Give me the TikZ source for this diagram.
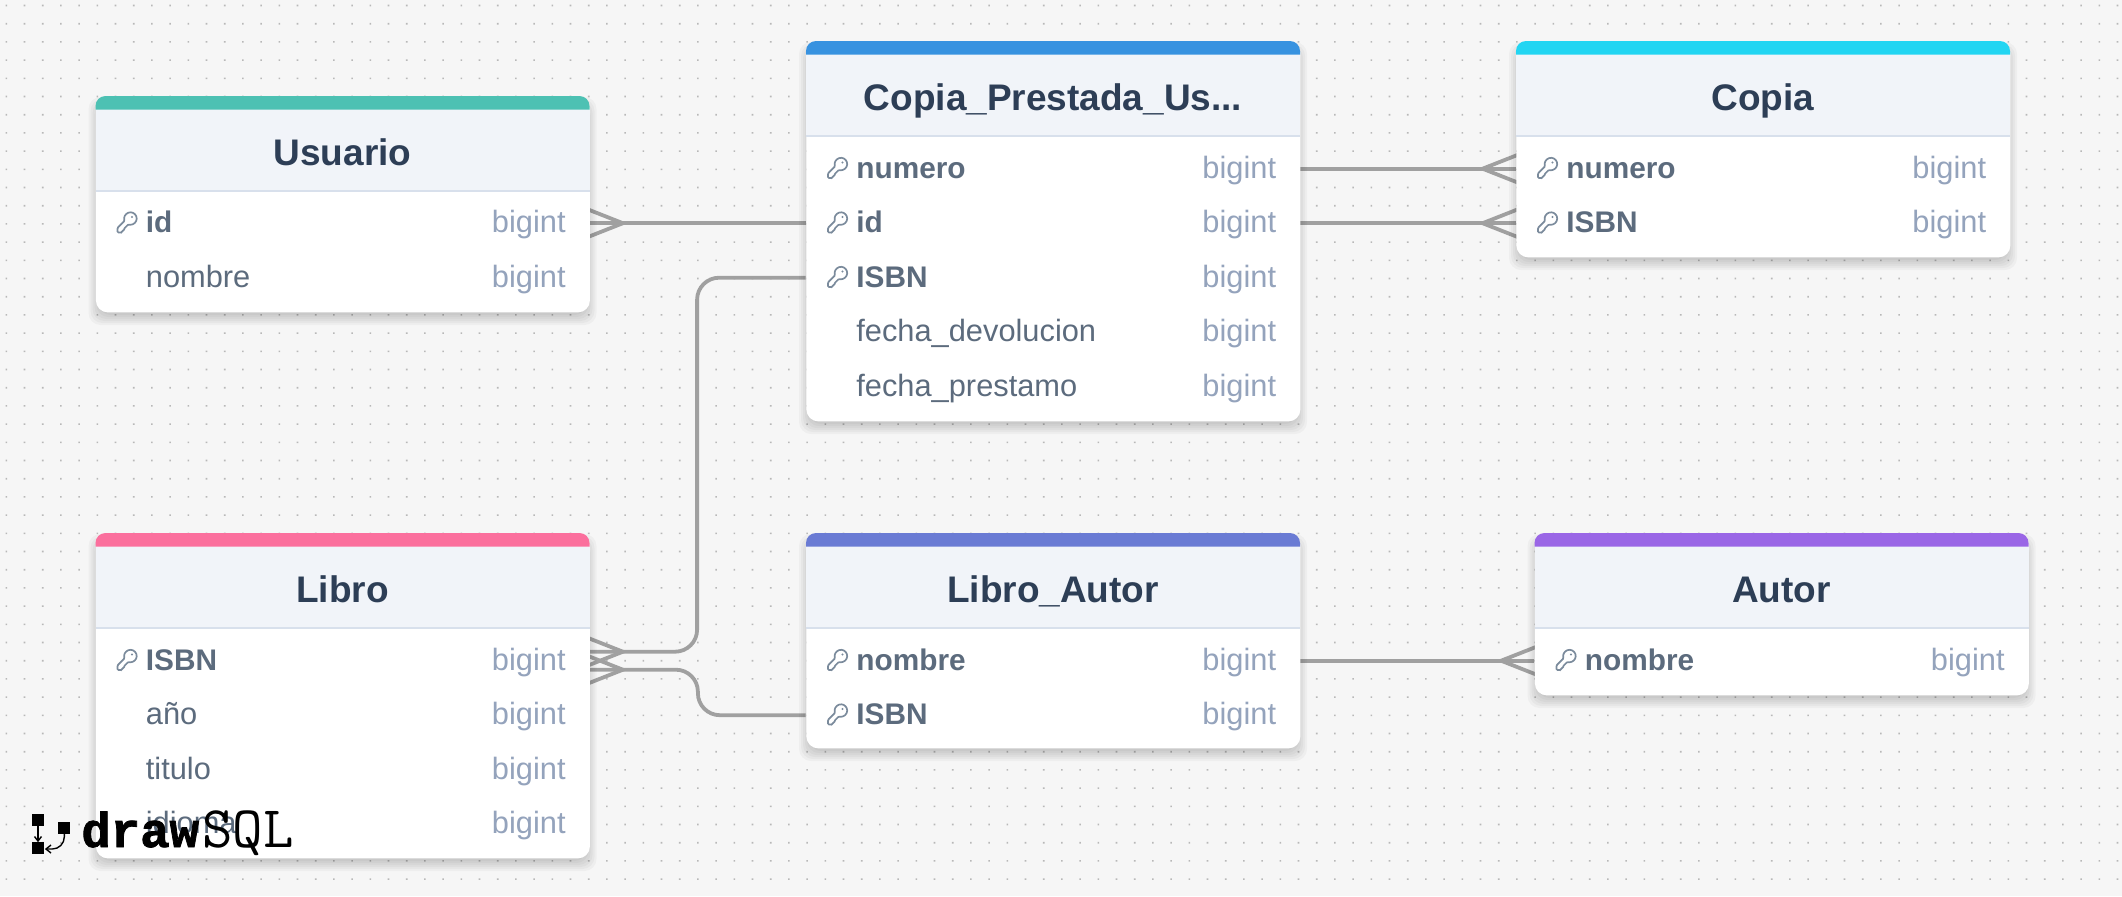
\documentclass[tikz,border=0pt]{standalone}
\usepackage{fontspec}
\setmainfont{Liberation Sans}
\newfontfamily\logofont[BoldFeatures={FakeBold=1.6}]{Liberation Mono}
\usetikzlibrary{backgrounds}

\definecolor{canvas}{HTML}{F6F6F6}
\definecolor{griddot}{HTML}{B8B8B8}
\definecolor{headfill}{HTML}{F1F4F9}
\definecolor{headrule}{HTML}{D8E0EC}
\definecolor{titleink}{HTML}{2D3E56}
\definecolor{fieldink}{HTML}{5C6B7D}
\definecolor{typeink}{HTML}{94A3BC}
\definecolor{keyink}{HTML}{7B8B9C}
\definecolor{relink}{HTML}{A0A0A0}
\definecolor{usuariobar}{HTML}{4DC1B3}
\definecolor{prestadabar}{HTML}{3792E0}
\definecolor{copiabar}{HTML}{22D5F2}
\definecolor{librobar}{HTML}{FB6F9D}
\definecolor{libroautorbar}{HTML}{6A7BD4}
\definecolor{autorbar}{HTML}{9A66E6}

\tikzset{
  tablebody/.style={anchor=north west, fill=white, rounded corners=6pt, minimum width=247pt, inner sep=0pt},
  tabletitle/.style={anchor=base, inner sep=0pt, text=titleink, font=\bfseries\fontsize{18.5}{20}\selectfont},
  rowbox/.style={minimum width=247pt, minimum height=27.25pt, inner sep=0pt},
  fieldname/.style={anchor=base west, inner sep=0pt, text=fieldink, font=\fontsize{15.4}{17}\selectfont},
  fieldtype/.style={anchor=base east, inner sep=0pt, text=typeink, font=\fontsize{15.4}{17}\selectfont},
  relline/.style={draw=relink, line width=1.9pt},
  keyline/.style={draw=keyink, line width=.85pt, rounded corners=.5pt},
}

% table frame: name, x, y, height, colour, title
\newcommand{\dbtable}[6]{
  \begin{scope}[shift={(#2,#3)}]
    \foreach \s in {7,5,...,-3}
      \fill[black, opacity=.03, rounded corners=6pt] (-\s,8-\s) rectangle (494+\s,#4+6+\s);
    \node[tablebody, minimum height=#4*0.5pt] (#1) at (0,0) {};
    \fill[headfill] (0,13) rectangle (494,95);
    \fill[#5] (0,13.5) [rounded corners=5pt] -- (0,0) -- (494,0) [sharp corners] -- (494,13.5) -- cycle;
    \draw[headrule, line width=.75pt] (0,95) -- (494,95);
    \node[tabletitle] (#1-title) at (247,69) {#6};
  \end{scope}
}

% rows: name, x, y of centre, field
\newcommand{\plainrow}[4]{
  \begin{scope}[shift={(#2,#3)}]
    \node[rowbox] (#1) at (247,0.7) {};
    \node[fieldname] (#1-name) at (50,10) {#4};
    \node[fieldtype] (#1-type) at (470.5,10) {bigint};
  \end{scope}
}
\newcommand{\keyrow}[4]{
  \begin{scope}[shift={(#2,#3)}]
    \node[rowbox] (#1) at (247,0.7) {};
    \node[fieldname, font=\bfseries\fontsize{14.9}{17}\selectfont] (#1-name) at (50,10) {#4};
    \node[fieldtype] (#1-type) at (470.5,10) {bigint};
    \begin{scope}[shift={(31.5,0)}]
      \draw[keyline] (-2.33,-1.88) arc[start angle=160, end angle=470, radius=6.2]
        -- (-3,6.2) -- (-3,8.2) -- (-5,8.2) -- (-5,10) -- (-9.5,10) -- (-9.5,5.3) -- cycle;
      \fill[keyink] (5,-5.5) circle[radius=1.1];
    \end{scope}
  \end{scope}
}

% crow's foot at a table edge, dir=1 opens to the right
\newcommand{\crowfoot}[2]{
  \draw[relline] ([shift={(-#2*3,-14.2)}]#1) -- ([shift={(#2*33,0)}]#1) -- ([shift={(-#2*3,14.2)}]#1);
}

\begin{document}
\begin{tikzpicture}[x=0.5pt, y=-0.5pt]

\useasboundingbox (0,0) rectangle (2122,896);

\begin{scope}[on background layer]
  \fill[canvas] (0,0) rectangle (2122,896);
  \fill[griddot] \foreach \i in {0,...,116} { \foreach \j in {0,...,48} {
    (\i*18.2+5.5,\j*18.2+4.7) rectangle ++(1.6,1.6) } };
\end{scope}

\dbtable{usuario}{95.5}{96}{216}{usuariobar}{Usuario}
\keyrow{usuario-id}{95.5}{222.5}{id}
\plainrow{usuario-nombre}{95.5}{277}{nombre}

\dbtable{prestada}{806}{41}{380}{prestadabar}{Copia\_Prestada\_Us...}
\keyrow{prestada-numero}{806}{168}{numero}
\keyrow{prestada-id}{806}{222.5}{id}
\keyrow{prestada-isbn}{806}{277}{ISBN}
\plainrow{prestada-devolucion}{806}{331.5}{fecha\_devolucion}
\plainrow{prestada-prestamo}{806}{386}{fecha\_prestamo}

\dbtable{copia}{1516}{41}{216}{copiabar}{Copia}
\keyrow{copia-numero}{1516}{168}{numero}
\keyrow{copia-isbn}{1516}{222.5}{ISBN}

\dbtable{libro}{95.5}{533}{325}{librobar}{Libro}
\keyrow{libro-isbn}{95.5}{660}{ISBN}
\plainrow{libro-ano}{95.5}{714.5}{año}
\plainrow{libro-titulo}{95.5}{769}{titulo}
\plainrow{libro-idioma}{95.5}{823.5}{idioma}

\dbtable{libroautor}{806}{533}{215}{libroautorbar}{Libro\_Autor}
\keyrow{libroautor-nombre}{806}{660}{nombre}
\keyrow{libroautor-isbn}{806}{714.5}{ISBN}

\dbtable{autor}{1534.5}{533}{162}{autorbar}{Autor}
\keyrow{autor-nombre}{1534.5}{660}{nombre}

\coordinate (libro-top) at ([shift={(0,-9)}]libro-isbn.east);
\coordinate (libro-bot) at ([shift={(0,9)}]libro-isbn.east);

\begin{scope}[on background layer]
  \draw[relline] (usuario-id.east) -- (prestada-id.west);
  \draw[relline] (prestada-numero.east) -- (copia-numero.west);
  \draw[relline] (prestada-id.east) -- (copia-isbn.west);
  \draw[relline] (libroautor-nombre.east) -- (autor-nombre.west);
  \draw[relline, rounded corners=11pt] (prestada-isbn.west) -- ++(-108.5,0) |- (libro-top);
  \draw[relline, rounded corners=11pt] (libro-bot) -- ++(108,0) |- (libroautor-isbn.west);
  \crowfoot{usuario-id.east}{1}
  \crowfoot{copia-numero.west}{-1}
  \crowfoot{copia-isbn.west}{-1}
  \crowfoot{autor-nombre.west}{-1}
  \crowfoot{libro-top}{1}
  \crowfoot{libro-bot}{1}
\end{scope}

% logo sits on top of everything
\fill[black] (32,814) rectangle (44.3,825.7);
\fill[black] (57.7,822) rectangle (70,834);
\fill[black] (32,842.3) rectangle (44.3,854);
\node[anchor=base west, inner sep=0pt, font=\logofont\bfseries\fontsize{24.5}{28}\selectfont] (logo-draw) at (81,847) {draw};
\node[anchor=base west, inner sep=0pt, font=\ttfamily\fontsize{29.5}{32}\selectfont] (logo-sql) at (202,847) {SQL};
\draw[line width=.7pt] (38,826) -- (38,840);
\draw[line width=.7pt] (34.5,836.5) -- (38,841) -- (41.5,836.5);
\draw[line width=.7pt, rounded corners=6pt] (64.3,834) -- (64.3,849) -- (47,849);
\draw[line width=.7pt] (51,845) -- (46,849) -- (51,853);

\end{tikzpicture}
\end{document}
